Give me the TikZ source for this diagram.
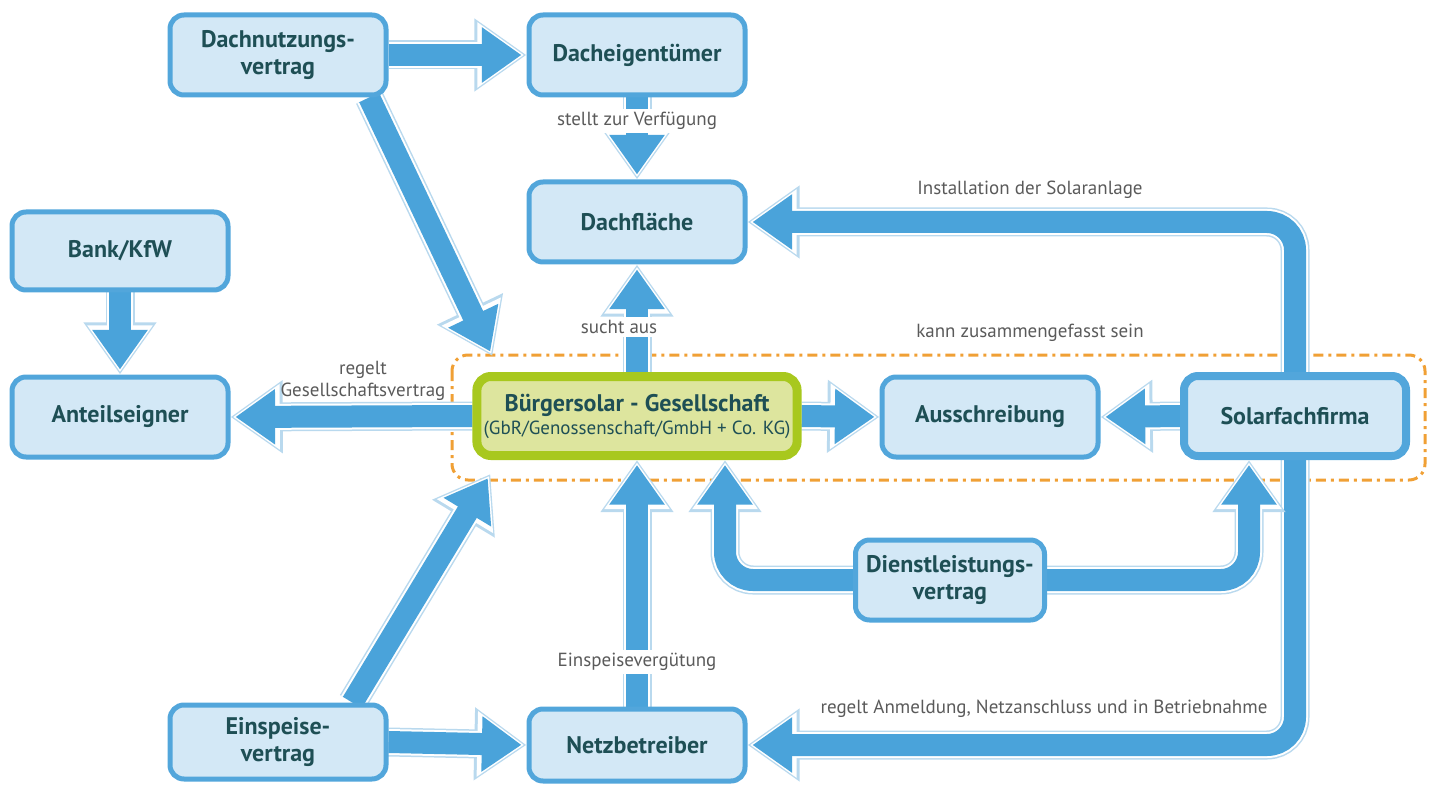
\documentclass[tikz,border=0pt]{standalone}
\usepackage{fontspec}
\setmainfont{PT Sans}
\usetikzlibrary{arrows.meta}
\definecolor{flowblue}{HTML}{4AA3DA}
\definecolor{flowpale}{HTML}{B9D9EE}
\definecolor{boxfill}{HTML}{D3E8F6}
\definecolor{boxline}{HTML}{52A6DB}
\definecolor{boxtext}{HTML}{1E4F55}
\definecolor{greenline}{HTML}{A8C81E}
\definecolor{greenfill}{HTML}{DDE59E}
\definecolor{labelgray}{HTML}{5A5A5A}
\definecolor{dashorange}{HTML}{F0A035}
\pgfdeclarelayer{bg}
\pgfdeclarelayer{flows}
\pgfsetlayers{bg,flows,main}
\tikzset{
  box/.style={draw=boxline, fill=boxfill, line width=2.5pt, rounded corners=7pt,
    minimum width=108pt, minimum height=40pt, align=center, text=boxtext,
    font=\bfseries\fontsize{12}{13.5}\selectfont},
  gbox/.style={box, draw=greenline, fill=greenfill, line width=4.5pt,
    minimum width=160pt, minimum height=39.5pt},
  txt/.style={font=\fontsize{9.5}{11}\selectfont, text=labelgray, align=center},
  ontop/.style={txt, fill=white, inner sep=1.5pt},
  flowtip/.style={-{Triangle[length=0pt 1.8, width=0pt 2.4]}},
  flow/.style={draw=flowblue, line width=11pt, flowtip, shorten >=2.5pt,
    rounded corners=14pt,
    preaction={draw=flowpale, line width=14.5pt, flowtip, shorten >=0pt},
    preaction={draw=white, line width=13pt, flowtip, shorten >=1.2pt}}
}
\begin{document}
\begin{tikzpicture}[x=0.5pt,y=-0.5pt]
  \useasboundingbox (0,0) rectangle (1435,786);
  % boxes
  \node[box] (dachn) at (278,55) {Dachnutzungs-\\vertrag};
  \node[box] (dacheig) at (637,55) {Dacheigentümer};
  \node[box] (dachfl) at (637,222) {Dachfläche};
  \node[box, minimum height=39pt] (bank) at (120,251) {Bank/KfW};
  \node[box] (anteil) at (120,417) {Anteilseigner};
  \node[gbox] (buerger) at (637,416) {Bürgersolar - Gesellschaft\\[-2pt]
    {\mdseries\fontsize{9.5}{11}\selectfont(GbR/Genossenschaft/GmbH + Co. KG)}};
  \node[box] (aus) at (990,417) {Ausschreibung};
  \node[box, line width=4pt, minimum width=111pt] (solar) at (1295,416) {Solarfachfirma};
  \node[box, minimum width=94.5pt] (dienst) at (950,580) {Dienstleistungs-\\vertrag};
  \node[box, minimum height=37pt] (einsp) at (278,742) {Einspeise-\\vertrag};
  \node[box, minimum height=36pt] (netz) at (637,745) {Netzbetreiber};
  % dashed group
  \begin{pgfonlayer}{bg}
    \draw[dashorange, line width=1.5pt, rounded corners=8pt,
      dash pattern=on 5pt off 2.5pt on 1.5pt off 2.5pt] (452,355) rectangle (1425,480);
  \end{pgfonlayer}
  % arrows
  \begin{pgfonlayer}{flows}
    \draw[flow] (dachn.east) -- (dacheig.west);
    \draw[flow] (dacheig.south) -- (dachfl.north);
    \draw[flow] (dachn.-25) -- ([shift={(20,-16)}]buerger.north west);
    \draw[flow] (bank.south) -- (anteil.north);
    \draw[flow] (buerger.west) -- (anteil.east);
    \draw[flow] (buerger.north) -- (dachfl.south);
    \draw[flow] (buerger.east) -- (aus.west);
    \draw[flow] (solar.west) -- (aus.east);
    \draw[flow] (solar.north) |- (dachfl.east);
    \draw[flow] (solar.south) |- (netz.east);
    \draw[flow] (dienst.west) -| ([xshift=44pt]buerger.south);
    \draw[flow] (dienst.east) -| ([xshift=-23pt]solar.south);
    \draw[flow] (einsp.28) -- ([shift={(18,14)}]buerger.south west);
    \draw[flow] (einsp.east) -- (netz.west);
    \draw[flow] (netz.north) -- (buerger.south);
  \end{pgfonlayer}
  % labels
  \node[ontop] (lstellt) at (637,121) {stellt zur Verfügung};
  \node[ontop] (lsucht) at (619,327) {sucht aus};
  \node[ontop] (leinsp) at (637,662) {Einspeisevergütung};
  \node[txt] (linst) at (1030,190) {Installation der Solaranlage};
  \node[txt] (lkann) at (1030,333) {kann zusammengefasst sein};
  \node[txt] (lanm) at (1044,709) {regelt Anmeldung, Netzanschluss und in Betriebnahme};
  \node[txt, inner sep=0pt] (lgesell) at (363,381) {regelt\\Gesellschaftsvertrag};
\end{tikzpicture}
\end{document}
